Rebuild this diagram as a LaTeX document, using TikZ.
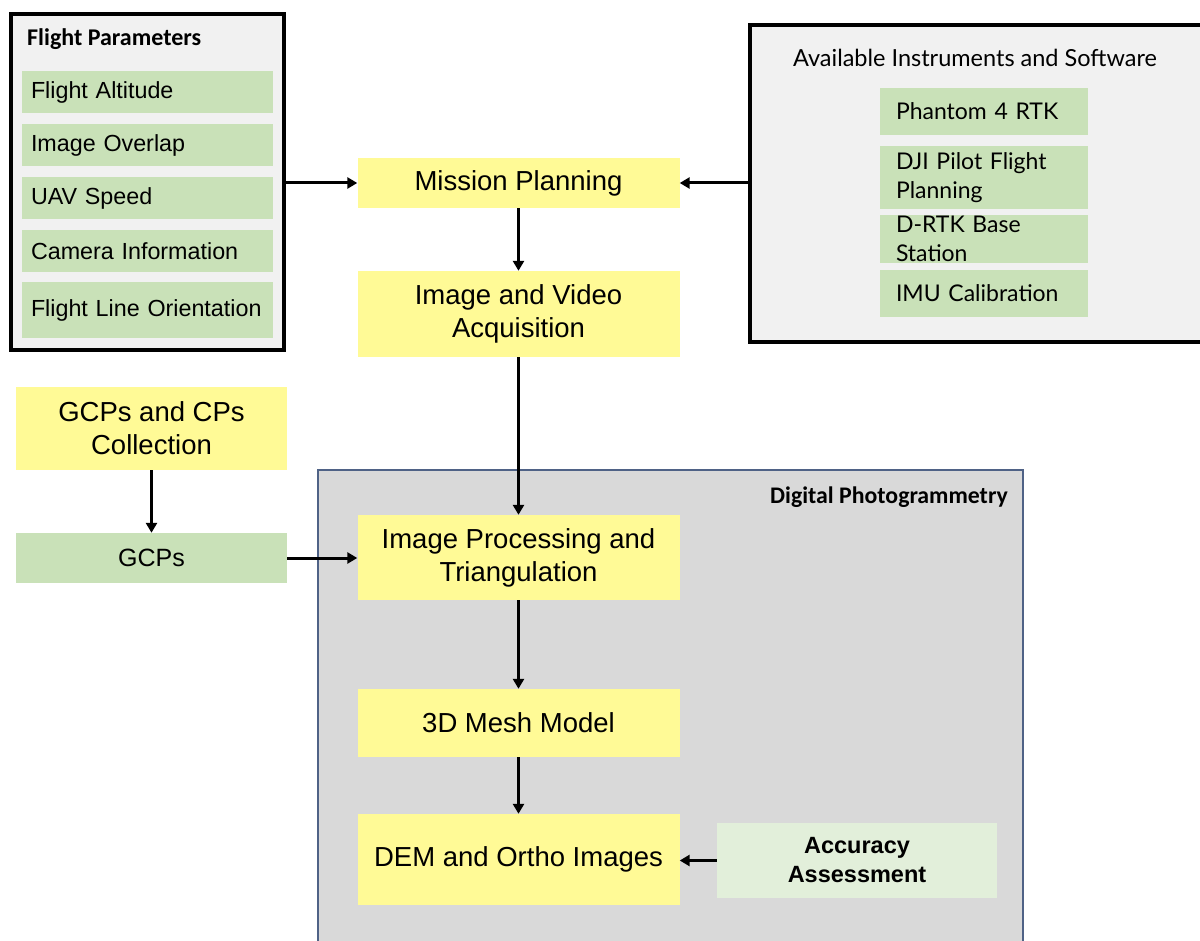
\documentclass[tikz,border=0pt]{standalone}
\usepackage{fontspec}
\setmainfont{Liberation Sans}
\newfontfamily\calibrifont{Carlito}
\newfontfamily\latofont{Lato}
\usetikzlibrary{arrows.meta}
\definecolor{yel}{HTML}{FFFA96}
\definecolor{grn}{HTML}{C9E1B8}
\definecolor{lgrn}{HTML}{E2EFDA}
\definecolor{panel}{HTML}{D9D9D9}
\definecolor{outerfill}{HTML}{F1F1F1}
\definecolor{dpedge}{HTML}{4F6286}
\begin{document}
\begin{tikzpicture}[x=1pt,y=-1pt,
  ybox/.style={fill=yel, draw=none, minimum width=322pt, align=center, inner sep=0pt,
    font=\fontsize{27.5}{33}\selectfont},
  litem/.style={fill=grn, draw=none, minimum width=251pt, text width=233pt, inner xsep=9pt,
    inner ysep=0pt, align=left, font=\fontsize{23.3}{28}\selectfont},
  ritem/.style={fill=grn, draw=none, text width=176pt, inner xsep=16pt, inner ysep=0pt,
    align=left, font=\latofont\fontsize{23}{29}\selectfont},
  outerbox/.style={draw=black, line width=3.2pt, fill=outerfill},
  arr/.style={draw=black, line width=3pt, -{Triangle[length=10pt,width=11pt]}}
]
\useasboundingbox (0,0) rectangle (1200,941);
\fill[white] (0,0) rectangle (1200,941);

% outer boxes
\node[outerbox, minimum width=273pt, minimum height=336pt, inner sep=0pt] (fp) at (147.5,182) {};
\node[outerbox, minimum width=452pt, minimum height=317pt, inner sep=0pt] (ais) at (976,183.5) {};
\node[fill=panel, draw=dpedge, line width=1.5pt, minimum width=705pt, minimum height=480pt, inner sep=0pt] (dp) at (670.5,710) {};

% titles
\node[anchor=west, inner sep=0pt, font=\calibrifont\bfseries\fontsize{24}{28}\selectfont] (fpt) at (27,39) {Flight Parameters};
\node[inner sep=0pt, font=\latofont\fontsize{23.5}{28}\selectfont] (aist) at (975,58) {Available Instruments and Software};
\node[anchor=east, inner sep=0pt, font=\calibrifont\bfseries\fontsize{23.8}{28}\selectfont] (dpt) at (1008,497) {Digital Photogrammetry};

% left items
\node[litem, minimum height=42pt] (fa) at (147.5,92) {Flight Altitude};
\node[litem, minimum height=42pt] (io) at (147.5,145) {Image Overlap};
\node[litem, minimum height=42pt] (us) at (147.5,198) {UAV Speed};
\node[litem, minimum height=42pt] (ci) at (147.5,251) {Camera Information};
\node[litem, minimum height=56pt] (flo) at (147.5,310) {Flight Line Orientation};

% right items
\node[ritem, minimum height=47pt] (p4) at (984,111.5) {Phantom 4 RTK};
\node[ritem, minimum height=63pt] (dji) at (984,177.5) {DJI Pilot Flight\\Planning};
\node[ritem, minimum height=48pt] (drtk) at (984,239) {D-RTK Base\\Station};
\node[ritem, minimum height=47pt] (imu) at (984,293.5) {IMU Calibration};

% main flow
\node[ybox, minimum height=50pt] (mp) at (518.5,183) {Mission Planning};
\node[ybox, minimum height=86pt] (iva) at (518.5,314) {Image and Video\\Acquisition};
\node[ybox, minimum height=85pt] (ipt) at (518.5,557.5) {Image Processing and\\Triangulation};
\node[ybox, minimum height=68pt] (mesh) at (518.5,723) {3D Mesh Model};
\node[ybox, minimum height=91pt] (dem) at (518.5,859.5) {DEM and Ortho Images};

\node[ybox, minimum width=271pt, minimum height=83pt] (gcpc) at (151.5,428.5) {GCPs and CPs\\Collection};
\node[fill=grn, minimum width=271pt, minimum height=50pt, inner sep=0pt, font=\fontsize{25}{30}\selectfont] (gcps) at (151.5,558) {GCPs};

\node[fill=lgrn, minimum width=280pt, minimum height=75pt, inner sep=0pt, align=center,
  font=\bfseries\fontsize{23.5}{29}\selectfont] (aa) at (857,860.5) {Accuracy\\Assessment};

% connectors
\draw[arr] (fp.east |- mp.west) -- (mp.west);
\draw[arr] (ais.west |- mp.east) -- (mp.east);
\draw[arr] (mp) -- (iva);
\draw[arr] (iva) -- (ipt);
\draw[arr] (ipt) -- (mesh);
\draw[arr] (mesh) -- (dem);
\draw[arr] (gcpc) -- (gcps);
\draw[arr] (gcps.east) -- (ipt.west |- gcps.east);
\draw[arr] (aa.west) -- (dem.east |- aa.west);
\end{tikzpicture}
\end{document}
